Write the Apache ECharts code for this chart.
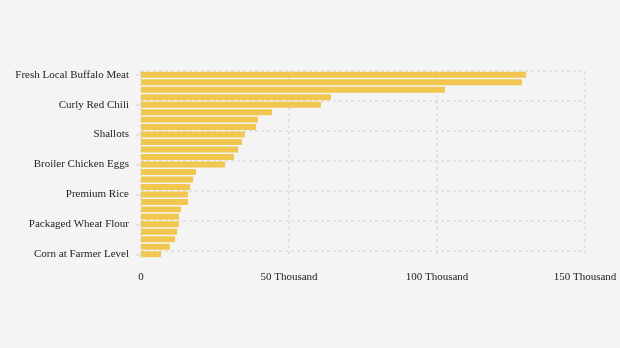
<!DOCTYPE html>
<html>
<head>
<meta charset="utf-8">
<style>
  html, body { margin: 0; padding: 0; background: #f4f4f4; }
  #chart { width: 620px; height: 348px; }
</style>
<script src="https://cdn.jsdelivr.net/npm/echarts@6/dist/echarts.min.js"></script>
</head>
<body>
<div id="chart"></div>
<script>
// commodity names, top to bottom (only every 4th is labelled in the chart)
const categories = [
  'Fresh Local Buffalo Meat', 'Beef Hind Leg', 'Frozen Buffalo Meat', "Bird's Eye Chili",
  'Curly Red Chili', 'Large Red Chili', 'Garlic Bulb', 'Purebred Chicken Meat',
  'Shallots', 'Broiler Chicken Meat', 'Garlic', "Green Bird's Eye Chili",
  'Broiler Chicken Eggs', 'Bulk Cooking Oil', 'Packaged Cooking Oil', 'Granulated Sugar',
  'Premium Rice', 'Imported Soybeans', 'Medium Rice', 'Packaged Salt',
  'Packaged Wheat Flour', 'Bulk Wheat Flour', 'Bulk Rice', 'Dry Harvested Grain',
  'Corn at Farmer Level'
]
const prices = [
  130100, 128700, 102700, 64200,
  60800, 44300, 39500, 38900,
  35100, 34100, 32800, 31400,
  28400, 18600, 17600, 16600,
  15900, 15900, 13500, 12800,
  12800, 12200, 11500, 9800,
  6800
]
const xTicks = [0, 50000, 100000, 150000]

const gridLine = { color: '#dcdcdc', width: 1.5, type: [3, 3] }

const dom = echarts.init(document.getElementById('chart'))
const option = {
  backgroundColor: '#f4f4f4',
  textStyle: { fontFamily: 'Liberation Serif' },
  grid: { left: 141, right: 35, top: 71, bottom: 90 },
  xAxis: {
    type: 'value',
    min: xTicks[0],
    max: xTicks[xTicks.length - 1],
    interval: xTicks[1] - xTicks[0],
    axisLine: { show: false },
    axisTick: { show: false },
    axisLabel: {
      color: '#222',
      fontSize: 11,
      margin: 14,
      formatter: v => v === 0 ? '0' : (v / 1000) + ' Thousand'
    },
    splitLine: { show: true, lineStyle: gridLine }
  },
  yAxis: {
    type: 'category',
    inverse: true,
    data: categories,
    axisLine: { show: false },
    axisTick: {
      show: true,
      interval: 3,
      alignWithLabel: true,
      length: 5,
      lineStyle: { color: '#dddddd', width: 1.5 }
    },
    axisLabel: { interval: 3, color: '#222', fontSize: 11, margin: 12 },
    splitLine: { show: true, interval: 3, showMaxLine: false, lineStyle: gridLine }
  },
  series: [{
    type: 'bar',
    data: prices,
    barWidth: '80%',
    itemStyle: { color: '#f2c751' }
  }]
}
dom.setOption(option)
window.addEventListener('resize', () => dom.resize())
</script>
</body>
</html>
